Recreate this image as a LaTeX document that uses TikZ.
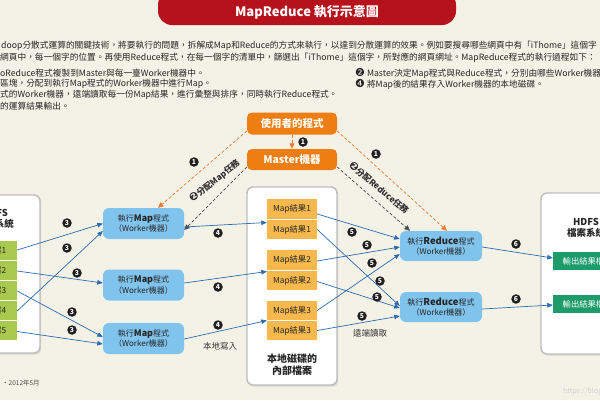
\documentclass[tikz,border=0pt]{standalone}
\usepackage{fontspec}
\setmainfont{Noto Sans CJK TC}
\newfontfamily\dejavu{DejaVu Sans}
\usetikzlibrary{arrows.meta,shadows}
\definecolor{bgcol}{HTML}{F4F2E6}
\definecolor{titlered}{HTML}{B5121B}
\definecolor{orgbox}{HTML}{EE7D12}
\definecolor{resorange}{HTML}{F7B94E}
\definecolor{wblue}{HTML}{80C3EC}
\definecolor{linkblue}{HTML}{2B6CB3}
\definecolor{fgreen}{HTML}{A8C94E}
\definecolor{ogreen}{HTML}{1E9B6B}
\definecolor{dashorange}{HTML}{F07A2E}
\definecolor{panelgray}{HTML}{BDBDBD}
\newcommand{\cnum}[1]{{\dejavu\fontsize{11}{10}\selectfont #1}}
\tikzset{
 pbox/.style={rounded corners=5pt, fill=orgbox, text=white, font=\bfseries\fontsize{10.5}{12}\selectfont, minimum width=90pt, minimum height=22pt, inner sep=0pt},
 panel/.style={rounded corners=6pt, fill=white, draw=panelgray, line width=1.4pt, inner sep=0pt, drop shadow={shadow xshift=1.2pt, shadow yshift=-1.5pt, fill=black!25}},
 res/.style={fill=resorange, minimum width=50pt, minimum height=19.5pt, inner sep=0pt, font=\fontsize{8.3}{10}\selectfont, text=black!85},
 wbox/.style={rounded corners=6pt, fill=wblue, minimum width=81pt, minimum height=31pt, inner sep=0pt, align=center, font=\fontsize{8}{10.5}\selectfont, text=black!85},
 fbox/.style={fill=fgreen, minimum width=44pt, minimum height=19pt, inner sep=0pt},
 obox/.style={fill=ogreen, minimum width=70pt, minimum height=18pt, inner sep=0pt},
 boxtxt/.style={inner sep=0pt, font=\fontsize{8.3}{10}\selectfont},
 link/.style={draw=linkblue, line width=0.7pt, -{Triangle[length=5.5pt,width=4.5pt]}},
 odash/.style={draw=dashorange, line width=0.7pt, dash pattern=on 3pt off 2pt, -{Triangle[length=5.5pt,width=5pt]}},
 gdash/.style={draw=black!70, line width=0.7pt, dash pattern=on 3pt off 2pt, -{Triangle[length=5.5pt,width=5pt]}},
 num/.style={circle, fill=black!88, text=white, font=\bfseries\fontsize{6.8}{7}\selectfont, minimum size=9.5pt, inner sep=0pt},
 para/.style={anchor=west, inner sep=0pt, font=\fontsize{8.7}{10}\selectfont, text=black!85},
 lbl/.style={inner sep=0pt, font=\fontsize{8.5}{10}\selectfont, text=black!80},
 ptitle/.style={inner sep=0pt, align=center, font=\bfseries\fontsize{9.5}{11}\selectfont, text=black!85},
 rotl/.style={inner sep=0pt, font=\bfseries\fontsize{8.5}{10}\selectfont, text=black!80},
}
\begin{document}
\begin{tikzpicture}[x=1pt,y=-1pt]
\useasboundingbox (0,0) rectangle (600,400);
\clip (0,0) rectangle (600,400);
\fill[bgcol] (0,0) rectangle (600,400);
% title
\node[fill=titlered, rounded corners=14pt, minimum width=298pt, minimum height=34pt, inner sep=0pt] (pill) at (307,8) {};
\node[inner sep=0pt, text=white, font=\bfseries\fontsize{13}{14}\selectfont] (ttl) at (307,12.5) {MapReduce 執行示意圖};
% paragraph
\node[para] (p1) at (1,46) {doop分散式運算的關鍵技術，將要執行的問題，拆解成Map和Reduce的方式來執行，以達到分散運算的效果。例如要搜尋哪些網頁中有「iThome」這個字};
\node[para] (p2) at (0,58) {網頁中，每一個字的位置。再使用Reduce程式，在每一個字的清單中，篩選出「iThome」這個字，所對應的網頁網址。MapReduce程式的執行過程如下：};
\node[para] (p3) at (0,73) {oReduce程式複製到Master與每一臺Worker機器中。};
\node[para] (p4) at (0,84) {區塊，分配到執行Map程式的Worker機器中進行Map。};
\node[para] (p5) at (0,95) {式的Worker機器，遠端讀取每一份Map結果，進行彙整與排序，同時執行Reduce程式。};
\node[para] (p6) at (0,106) {的運算結果輸出。};
\node[para] (p7) at (355,73) {\cnum{❷} Master決定Map程式與Reduce程式，分別由哪些Worker機器};
\node[para] (p8) at (355,84) {\cnum{❹} 將Map後的結果存入Worker機器的本地磁碟。};
% panels
\node[panel, minimum width=90pt, minimum height=158pt] (lp) at (-5,274) {};
\node[panel, minimum width=90pt, minimum height=198pt] (disk) at (292,286) {};
\node[panel, minimum width=90pt, minimum height=161pt] (rp) at (586,273.5) {};
\node[ptitle] (lpt) at (-5,218.5) {HDFS\\檔案系統};
\node[ptitle] (rpt) at (586,227.5) {HDFS\\檔案系統};
\node[ptitle, font=\bfseries\fontsize{10}{12.5}\selectfont] (dskt) at (292,364.5) {本地磁碟的\\內部檔案};
% left files
\foreach \i/\y in {1/250,2/270,3/290,4/310,5/330.5}{
  \node[fbox] (f\i) at (-5,\y) {};
  \node[boxtxt, anchor=east, text=black!85] (ft\i) at (6.5,\y) {檔案\i};
}
% output files
\node[obox] (o1) at (588,261) {};
\node[obox] (o2) at (588,304) {};
\node[boxtxt, anchor=west, text=white] (ot1) at (562.5,261) {輸出結果檔};
\node[boxtxt, anchor=west, text=white] (ot2) at (562.5,304) {輸出結果檔};
% user / master
\node[pbox] (user) at (292,123.5) {使用者的程式};
\node[pbox, minimum height=21pt] (master) at (292,159.5) {Master機器};
% workers
\node[wbox] (m1) at (143.5,223.5) {執行{\bfseries\fontsize{9}{10}\selectfont Map}程式\\（Worker機器）};
\node[wbox] (m2) at (143.5,285) {執行{\bfseries\fontsize{9}{10}\selectfont Map}程式\\（Worker機器）};
\node[wbox] (m3) at (143.5,338.5) {執行{\bfseries\fontsize{9}{10}\selectfont Map}程式\\（Worker機器）};
\node[wbox, minimum width=82pt, minimum height=30pt] (d1) at (441,246) {執行{\bfseries\fontsize{9.5}{10}\selectfont Reduce}程式\\（Worker機器）};
\node[wbox, minimum width=82pt, minimum height=30pt] (d2) at (441,307) {執行{\bfseries\fontsize{9.5}{10}\selectfont Reduce}程式\\（Worker機器）};
% map results
\node[res] (r1a) at (292,209) {Map結果1};
\node[res] (r1b) at (292,229.5) {Map結果1};
\node[res] (r2a) at (292,260) {Map結果2};
\node[res] (r2b) at (292,280.5) {Map結果2};
\node[res] (r3a) at (292,310.5) {Map結果3};
\node[res] (r3b) at (292,330.5) {Map結果3};
% dashed control arrows
\draw[odash] (user.south) -- (master.north);
\draw[odash] ([yshift=-7.5pt]user.west) -- ([xshift=14.5pt]m1.north);
\draw[odash] ([yshift=-7.5pt]user.east) -- ([xshift=6pt]d1.north);
\draw[gdash] ([yshift=-7.5pt]master.west) -- ([yshift=-6.5pt]m1.east);
\draw[gdash] ([yshift=-7.5pt]master.east) -- ([xshift=-31pt]d1.north);
\node[num] (n1a) at (303,142) {1};
\node[num] (n1b) at (194,162) {1};
\node[num] (n1c) at (376,154) {1};
\node[rotl, rotate=39] (l2a) at (214.5,181) {\cnum{❷}分配Map任務};
\node[rotl, rotate=-40] (l2b) at (379,187.5) {\cnum{❷}分配Reduce任務};
% step 3
\draw[link] (f1.east) -- (m1.west);
\draw[link] ([yshift=-1pt]f4.east) -- ([yshift=-7.5pt]m1.west);
\draw[link] ([yshift=-1pt]f2.east) -- ([yshift=2pt]m2.west);
\draw[link] ([yshift=-1pt]f3.east) -- ([yshift=1.5pt]m3.west);
\draw[link] ([yshift=-1pt]f5.east) -- ([yshift=-5.5pt]m3.west);
\node[num] (n3a) at (67,223) {3};
\node[num] (n3b) at (67,248) {3};
\node[num] (n3c) at (77,273) {3};
\node[num] (n3d) at (72,312) {3};
\node[num] (n3e) at (72,330) {3};
% step 4
\draw[link] ([yshift=-3.5pt]m1.east) -- ([yshift=7pt]r1b.west);
\draw[link] ([yshift=2pt]m2.east) -- ([yshift=9pt]r2b.west);
\draw[link] ([yshift=-0.5pt]m3.east) -- ([yshift=10pt]r3b.west);
\node[num] (n4a) at (218,233) {4};
\node[num] (n4b) at (218,287) {4};
\node[num] (n4c) at (218,325) {4};
\node[lbl] (bd) at (220,346) {本地寫入};
% step 5
\draw[link] ([yshift=-5pt]r1a.east) -- ([yshift=7pt]d1.west);
\draw[link] (r1b.east) -- ([yshift=1pt]d2.west);
\draw[link] ([yshift=-1pt]r2a.east) -- ([yshift=-1pt]d1.west);
\draw[link] ([yshift=-1pt]r2b.east) -- ([yshift=-1pt]d2.west);
\draw[link] (r3a.east) -- ([yshift=-8pt]d1.west);
\draw[link] (r3b.east) -- ([yshift=-9pt]d2.west);
\node[num] (n5a) at (352,232) {5};
\node[num] (n5b) at (367,245) {5};
\node[num] (n5c) at (372,263) {5};
\node[num] (n5d) at (380,281) {5};
\node[num] (n5e) at (377,297) {5};
\node[num] (n5f) at (362,316) {5};
\node[lbl] (yd) at (370,333) {遠端讀取};
% step 6
\draw[link] ([yshift=-1pt]d1.east) -- ([yshift=3pt]o1.west);
\draw[link] ([yshift=-2pt]d2.east) -- ([yshift=-1pt]o2.west);
\node[num] (n6a) at (516,244) {6};
\node[num] (n6b) at (516,299) {6};
% footer
\node[inner sep=0pt, anchor=west, font=\fontsize{6.5}{8}\selectfont, text=black!70] (src) at (2,383) {・2012年5月};
\node[inner sep=0pt, anchor=west, font=\fontsize{7}{8}\selectfont, text=black!18] (wm) at (563,392) {https://blog};
\end{tikzpicture}
\end{document}
